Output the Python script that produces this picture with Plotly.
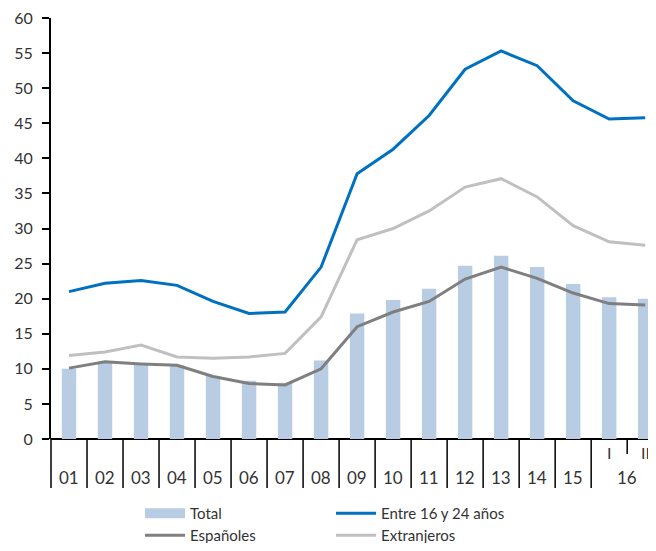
import plotly.graph_objects as go

categories = ["01", "02", "03", "04", "05", "06", "07", "08", "09", "10",
              "11", "12", "13", "14", "15", "I", "II"]
group_16_label = "16"
total = [10.0, 11.0, 10.8, 10.5, 9.0, 8.3, 8.0, 11.2, 17.9, 19.8,
         21.4, 24.7, 26.1, 24.5, 22.1, 20.2, 20.0]
jovenes = [21.0, 22.2, 22.6, 21.9, 19.6, 17.9, 18.1, 24.5, 37.8, 41.3,
           46.1, 52.7, 55.3, 53.2, 48.2, 45.6, 45.8]
espanoles = [10.1, 11.0, 10.7, 10.5, 8.9, 7.9, 7.7, 10.0, 16.0, 18.1,
             19.6, 22.8, 24.5, 22.9, 20.8, 19.3, 19.1]
extranjeros = [11.9, 12.4, 13.4, 11.7, 11.5, 11.7, 12.2, 17.4, 28.4, 30.0,
               32.5, 35.9, 37.1, 34.5, 30.4, 28.1, 27.6]
y_ticks = [0, 5, 10, 15, 20, 25, 30, 35, 40, 45, 50, 55, 60]

x = list(range(len(categories)))
XMIN, XMAX = -0.5, 16.3
FONT = "Lato"
TXT = "#333333"
BAR_COLOR = "#B8CCE4"

PLOT_H = 421.0


def xp(v):
    return (v - XMIN) / (XMAX - XMIN)


def yp(px_below):
    return -px_below / PLOT_H


fig = go.Figure()
fig.add_trace(go.Bar(x=x, y=total, name="Total", marker_color=BAR_COLOR,
                     marker_line_width=0, width=0.4, showlegend=False))
# legend entry for the bars drawn as a thick band
fig.add_trace(go.Scatter(x=[None], y=[None], name="Total", mode="lines",
                         line=dict(color=BAR_COLOR, width=10), legend="legend"))
fig.add_trace(go.Scatter(x=x, y=jovenes, name="Entre 16 y 24 años", mode="lines",
                         line=dict(color="#0070C0", width=3), legend="legend"))
fig.add_trace(go.Scatter(x=x, y=espanoles, name="Españoles", mode="lines",
                         line=dict(color="#7F7F7F", width=3), legend="legend2"))
fig.add_trace(go.Scatter(x=x, y=extranjeros, name="Extranjeros", mode="lines",
                         line=dict(color="#C0C0C0", width=3), legend="legend2"))

shapes = []
annotations = []
n_years = 15
for b in range(n_years + 1):
    shapes.append(dict(type="line", xref="paper", yref="paper",
                       x0=xp(b - 0.5), x1=xp(b - 0.5), y0=0, y1=yp(49),
                       line=dict(color="black", width=1.5)))
shapes.append(dict(type="line", xref="paper", yref="paper",
                   x0=xp(n_years + 0.5), x1=xp(n_years + 0.5), y0=0, y1=yp(15),
                   line=dict(color="black", width=1.5)))

for i in range(n_years):
    annotations.append(dict(x=xp(i), y=yp(38), xref="paper", yref="paper",
                            text=categories[i], showarrow=False,
                            xanchor="center", yanchor="middle",
                            font=dict(size=17, color=TXT, family=FONT)))
for i in range(n_years, len(categories)):
    annotations.append(dict(x=xp(i), y=yp(13), xref="paper", yref="paper",
                            text=categories[i], showarrow=False,
                            xanchor="center", yanchor="middle",
                            font=dict(size=16, color=TXT, family=FONT)))
annotations.append(dict(x=xp(n_years + 0.5), y=yp(38), xref="paper", yref="paper",
                        text=group_16_label, showarrow=False,
                        xanchor="center", yanchor="middle",
                        font=dict(size=17, color=TXT, family=FONT)))

legend_common = dict(orientation="h", x=89.0 / 605.0, xanchor="left", yanchor="top",
                     entrywidth=136, entrywidthmode="pixels", traceorder="normal",
                     font=dict(size=15, color=TXT, family=FONT),
                     itemwidth=40, tracegroupgap=0, bgcolor="rgba(0,0,0,0)")

fig.update_layout(
    width=648, height=535,
    margin=dict(l=43, r=0, t=10, b=104, autoexpand=False),
    plot_bgcolor="white", paper_bgcolor="white",
    font=dict(family=FONT, color=TXT),
    xaxis=dict(range=[XMIN, XMAX], showticklabels=False, ticks="",
               showgrid=False, zeroline=False, showline=False, fixedrange=True),
    yaxis=dict(range=[0, 60], tickvals=y_ticks, ticks="outside", ticklen=7,
               tickwidth=2, tickcolor="black", showline=True, linecolor="black",
               linewidth=2, showgrid=False, zeroline=True, zerolinecolor="black",
               zerolinewidth=2, tickfont=dict(size=16, color=TXT, family=FONT),
               ticklabelstandoff=6, automargin=False, ticklabeloverflow="allow"),
    shapes=shapes,
    annotations=annotations,
    legend=dict(y=yp(58), **legend_common),
    legend2=dict(y=yp(80), **legend_common),
    showlegend=True,
)

fig.write_html("out.html")
